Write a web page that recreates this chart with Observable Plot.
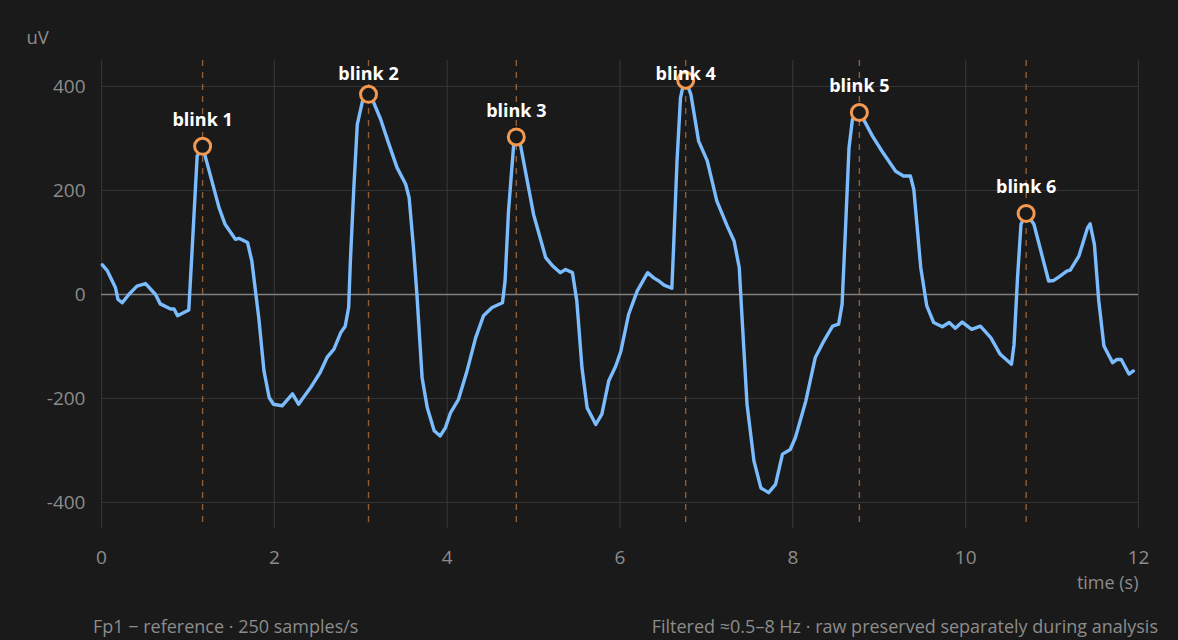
<!DOCTYPE html>
<html>
<head>
<meta charset="utf-8">
<script src="https://cdn.jsdelivr.net/npm/d3@7"></script>
<script src="https://cdn.jsdelivr.net/npm/@observablehq/plot@0.6"></script>
<style>
  html, body { margin: 0; padding: 0; background: #1a1a1a; }
  body { width: 1178px; height: 640px; overflow: hidden; font-family: "Open Sans", "Noto Sans", sans-serif; }
  #caption { display: flex; justify-content: space-between; padding: 15px 20px 0 93px; font-size: 18px; line-height: 22px; color: #8c8c8c; }
</style>
</head>
<body>
<div id="chart"></div>
<div id="caption"><span>Fp1 − reference · 250 samples/s</span><span>Filtered ≈0.5–8 Hz · raw preserved separately during analysis</span></div>
<script>
// Fp1 trace, seconds and microvolts
const timeS = [
  0.01, 0.066, 0.162, 0.19, 0.24, 0.316, 0.41, 0.51, 0.625, 0.68, 0.80, 0.84, 0.88, 1.01, 1.05, 1.107, 1.17, 1.20,
  1.36, 1.43, 1.55, 1.59, 1.69, 1.74, 1.82, 1.88, 1.94, 1.99, 2.09, 2.21, 2.28, 2.42, 2.53, 2.61, 2.69, 2.77,
  2.82, 2.86, 2.88, 2.92, 2.96, 3.02, 3.09, 3.15, 3.23, 3.32, 3.42, 3.52, 3.56, 3.61, 3.65, 3.71, 3.77, 3.85,
  3.92, 3.98, 4.04, 4.13, 4.23, 4.33, 4.42, 4.52, 4.64, 4.67, 4.71, 4.77, 4.80, 4.85, 5.00, 5.14, 5.22, 5.31,
  5.37, 5.45, 5.50, 5.56, 5.62, 5.72, 5.79, 5.87, 5.95, 6.01, 6.10, 6.20, 6.32, 6.39, 6.45, 6.51, 6.60, 6.62,
  6.66, 6.70, 6.73, 6.76, 6.82, 6.91, 7.01, 7.12, 7.24, 7.32, 7.38, 7.41, 7.47, 7.55, 7.63, 7.72, 7.80, 7.88,
  7.97, 8.03, 8.15, 8.26, 8.36, 8.46, 8.53, 8.57, 8.61, 8.65, 8.69, 8.77, 8.84, 8.92, 9.03, 9.19, 9.28, 9.36,
  9.40, 9.48, 9.55, 9.63, 9.73, 9.81, 9.88, 9.96, 10.07, 10.17, 10.29, 10.40, 10.53, 10.56, 10.60, 10.64, 10.70,
  10.79, 10.89, 10.96, 11.02, 11.08, 11.17, 11.21, 11.31, 11.41, 11.44, 11.49, 11.54, 11.60, 11.70, 11.75,
  11.80, 11.89, 11.94
];
const microvolts = [
  57, 46, 13, -9, -16, 0, 16, 21, 0, -18, -28, -28, -41, -30, 90, 266, 285, 266,
  167, 135, 106, 108, 100, 64, -45, -147, -198, -211, -214, -191, -211, -179, -150, -121, -105, -73,
  -61, -25, 64, 205, 327, 372, 385, 369, 337, 292, 244, 212, 186, 90, 0, -160, -218, -262,
  -272, -256, -227, -202, -147, -83, -41, -25, -16, 26, 161, 289, 303, 286, 154, 71, 55, 42,
  48, 42, -12, -141, -218, -250, -230, -166, -138, -109, -38, 7, 42, 32, 26, 18, 12, 90,
  257, 378, 401, 412, 385, 295, 257, 180, 132, 103, 52, -38, -211, -320, -372, -381, -365, -307,
  -298, -275, -205, -121, -89, -61, -57, -19, 128, 282, 337, 350, 330, 305, 276, 237, 228, 228,
  202, 52, -22, -54, -62, -54, -65, -53, -67, -61, -83, -115, -134, -96, 32, 135, 156,
  135, 71, 26, 27, 34, 45, 47, 74, 128, 136, 96, -12, -99, -131, -125,
  -125, -153, -147
];

// Detected blink peaks
const blinkLabels = ["blink 1", "blink 2", "blink 3", "blink 4", "blink 5", "blink 6"];
const blinkTimes = [1.17, 3.09, 4.80, 6.76, 8.77, 10.70];
const blinkPeaks = [285, 385, 303, 412, 350, 156];

// Axis ticks
const xTicks = [0, 2, 4, 6, 8, 10, 12];
const yTicks = [-400, -200, 0, 200, 400];

const trace = timeS.map((t, i) => ({t, v: microvolts[i]}));
const blinks = blinkLabels.map((label, i) => ({label, t: blinkTimes[i], v: blinkPeaks[i]}));

// Labels sit 50 uV above their peak, but never above the top tick region
const labelY = d => Math.min(d.v + 50, 424);

const chart = Plot.plot({
  width: 1178,
  height: 600,
  marginLeft: 101,
  marginRight: 40,
  marginTop: 60,
  marginBottom: 72,
  style: {background: "#1a1a1a", color: "#8c8c8c", fontFamily: "'Open Sans', 'Noto Sans', sans-serif", fontSize: "18px"},
  x: {domain: [0, 12]},
  y: {domain: [-450, 450]},
  marks: [
    Plot.gridX(xTicks, {stroke: "#343434", strokeOpacity: 1, strokeWidth: 1.2}),
    Plot.gridY(yTicks.filter(d => d !== 0), {stroke: "#343434", strokeOpacity: 1, strokeWidth: 1.2}),
    Plot.ruleY([0], {stroke: "#808080", strokeWidth: 1.6}),
    Plot.axisX(xTicks, {tickSize: 0, tickPadding: 22, fontSize: 19, label: null, tickFormat: d => String(d)}),
    Plot.axisY(yTicks, {tickSize: 0, tickPadding: 16, fontSize: 19, label: null, tickFormat: d => String(d)}),
    Plot.text(["uV"], {frameAnchor: "top-left", textAnchor: "start", lineAnchor: "middle", dx: -75, dy: -22, fontSize: 18.5, fill: "#8c8c8c"}),
    Plot.text(["time (s)"], {frameAnchor: "bottom-right", textAnchor: "end", lineAnchor: "middle", dy: 55, fontSize: 18, fill: "#8c8c8c"}),
    Plot.ruleX(blinks, {x: "t", y1: 450, y2: -440, stroke: "#b8743e", strokeOpacity: 0.75, strokeWidth: 1.4, strokeDasharray: "6,6"}),
    Plot.line(trace, {x: "t", y: "v", stroke: "#7bbcff", strokeWidth: 3.4, strokeLinejoin: "round", strokeLinecap: "round"}),
    Plot.dot(blinks, {x: "t", y: "v", r: 8, stroke: "#f4994f", strokeWidth: 3, fill: "#1a1a1a"}),
    Plot.text(blinks, {x: "t", y: labelY, text: "label", fill: "#ffffff", fontWeight: 700, fontSize: 18})
  ]
});
document.getElementById("chart").appendChild(chart);
</script>
</body>
</html>
